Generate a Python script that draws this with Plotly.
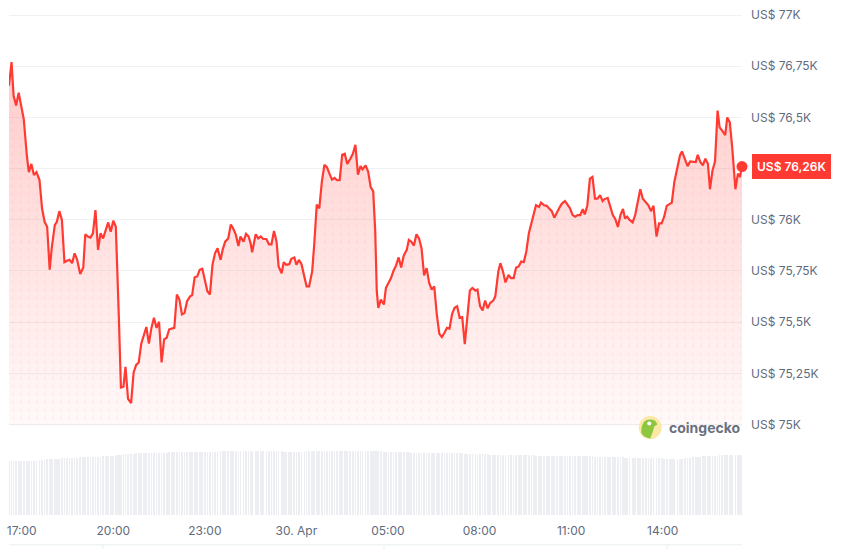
import plotly.graph_objects as go
from datetime import datetime, timedelta

# ---------------- data ----------------
times_hm = [
    "16:35", "16:40", "16:44", "16:49", "16:54", "16:59", "17:04", "17:10", "17:14", "17:19",
    "17:24", "17:29", "17:35", "17:40", "17:45", "17:50", "17:55", "17:59", "18:05", "18:09",
    "18:14", "18:19", "18:24", "18:29", "18:34", "18:39", "18:44", "18:49", "18:55", "19:01",
    "19:05", "19:10", "19:15", "19:20", "19:25", "19:30", "19:35", "19:40", "19:45", "19:50",
    "19:55", "20:00", "20:05", "20:08", "20:11", "20:15", "20:20", "20:24", "20:29", "20:35",
    "20:40", "20:45", "20:50", "20:55", "21:01", "21:05", "21:10", "21:15", "21:20", "21:25",
    "21:30", "21:35", "21:40", "21:45", "21:50", "21:55", "22:00", "22:05", "22:10", "22:15",
    "22:20", "22:25", "22:31", "22:35", "22:40", "22:45", "22:50", "22:55", "23:01", "23:05",
    "23:10", "23:15", "23:20", "23:25", "23:31", "23:35", "23:40", "23:46", "23:51", "23:55",
    "00:01", "00:06", "00:10", "00:16", "00:21", "00:26", "00:30", "00:33", "00:40", "00:45",
    "00:50", "00:55", "01:01", "01:06", "01:11", "01:16", "01:21", "01:25", "01:31", "01:35",
    "01:40", "01:46", "01:50", "01:56", "02:00", "02:05", "02:10", "02:16", "02:20", "02:25",
    "02:31", "02:35", "02:40", "02:45", "02:50", "02:55", "03:00", "03:05", "03:10", "03:15",
    "03:20", "03:25", "03:30", "03:35", "03:40", "03:46", "03:51", "03:56", "04:01", "04:06",
    "04:10", "04:16", "04:21", "04:26", "04:31", "04:35", "04:38", "04:41", "04:46", "04:52",
    "04:56", "05:01", "05:06", "05:11", "05:16", "05:21", "05:26", "05:31", "05:37", "05:41",
    "05:46", "05:51", "05:56", "06:01", "06:06", "06:11", "06:16", "06:21", "06:26", "06:31",
    "06:36", "06:41", "06:46", "06:51", "06:56", "07:01", "07:06", "07:11", "07:16", "07:21",
    "07:26", "07:31", "07:36", "07:41", "07:46", "07:52", "07:56", "08:01", "08:06", "08:11",
    "08:16", "08:21", "08:27", "08:31", "08:37", "08:41", "08:46", "08:51", "08:57", "09:02",
    "09:07", "09:12", "09:17", "09:22", "09:27", "09:32", "09:37", "09:42", "09:47", "09:51",
    "09:57", "10:01", "10:07", "10:12", "10:17", "10:22", "10:27", "10:33", "10:38", "10:42",
    "10:48", "10:53", "10:58", "11:03", "11:08", "11:13", "11:18", "11:23", "11:27", "11:32",
    "11:37", "11:42", "11:47", "11:52", "11:57", "12:02", "12:06", "12:12", "12:16", "12:22",
    "12:27", "12:32", "12:37", "12:42", "12:46", "12:50", "12:55", "13:01", "13:06", "13:11",
    "13:16", "13:21", "13:27", "13:32", "13:37", "13:42", "13:48", "13:53", "13:58", "14:03",
    "14:08", "14:14", "14:18", "14:23", "14:29", "14:34", "14:38", "14:44", "14:49", "14:54",
    "14:59", "15:05", "15:09", "15:14", "15:19", "15:24", "15:29", "15:33", "15:38", "15:43",
    "15:48", "15:52", "15:57", "16:03", "16:07", "16:12", "16:17", "16:23", "16:28", "16:32",
    "16:36",
]

prices = [
    76655, 76770, 76607, 76558, 76621, 76558, 76492, 76316, 76233, 76273,
    76218, 76233, 76194, 76055, 75990, 75966, 75756, 75861, 75974, 75990,
    76042, 75999, 75793, 75800, 75804, 75788, 75836, 75804, 75735, 75767,
    75929, 75918, 75913, 75934, 76047, 75853, 75934, 75909, 75955, 75987,
    75942, 75995, 75966, 75782, 75521, 75181, 75185, 75282, 75125, 75104,
    75254, 75291, 75303, 75395, 75440, 75476, 75395, 75472, 75521, 75472,
    75502, 75303, 75416, 75424, 75465, 75470, 75472, 75635, 75610, 75538,
    75545, 75602, 75626, 75631, 75719, 75723, 75756, 75761, 75699, 75651,
    75635, 75780, 75836, 75861, 75804, 75853, 75893, 75909, 75977, 75961,
    75926, 75872, 75918, 75893, 75931, 75918, 75885, 75841, 75929, 75909,
    75918, 75906, 75906, 75880, 75880, 75945, 75893, 75772, 75739, 75793,
    75780, 75783, 75809, 75816, 75780, 75804, 75783, 75715, 75675, 75675,
    75748, 75877, 76074, 76055, 76185, 76268, 76257, 76225, 76196, 76204,
    76193, 76193, 76317, 76322, 76273, 76298, 76322, 76366, 76220, 76262,
    76246, 76266, 76236, 76160, 76139, 75942, 75651, 75570, 75610, 75586,
    75667, 75691, 75715, 75751, 75777, 75816, 75767, 75825, 75853, 75902,
    75893, 75874, 75929, 75909, 75861, 75728, 75764, 75691, 75659, 75675,
    75538, 75443, 75427, 75448, 75472, 75468, 75540, 75570, 75578, 75521,
    75524, 75392, 75545, 75654, 75667, 75654, 75659, 75578, 75557, 75605,
    75567, 75594, 75605, 75626, 75748, 75788, 75748, 75694, 75731, 75715,
    75715, 75767, 75772, 75796, 75793, 75845, 75934, 75982, 76019, 76071,
    76063, 76084, 76071, 76068, 76055, 76042, 76010, 76042, 76063, 76079,
    76091, 76074, 76055, 76023, 76015, 76023, 76023, 76052, 76026, 76071,
    76201, 76209, 76103, 76103, 76120, 76091, 76101, 76107, 76071, 76023,
    76003, 75965, 76023, 76053, 76006, 76015, 75999, 75987, 76023, 76087,
    76149, 76103, 76084, 76071, 76042, 76068, 75918, 75982, 75982, 76015,
    76068, 76079, 76084, 76185, 76249, 76314, 76334, 76298, 76262, 76285,
    76282, 76282, 76317, 76282, 76266, 76298, 76273, 76149, 76241, 76285,
    76533, 76451, 76435, 76414, 76500, 76476, 76346, 76149, 76225, 76209,
    76260,
]

volumes = [
    27.0, 27.0, 27.1, 27.0, 26.9, 27.0, 27.0, 27.1, 27.1, 27.0,
    27.2, 27.3, 27.4, 27.5, 27.6, 27.8, 27.9, 28.0, 28.0, 28.1,
    28.2, 28.3, 28.4, 28.5, 28.5, 28.6, 28.7, 28.7, 28.8, 28.8,
    28.9, 29.0, 29.0, 29.1, 29.1, 29.2, 29.2, 29.3, 29.3, 29.4,
    29.5, 29.5, 29.6, 29.8, 30.0, 30.2, 30.4, 30.5, 30.5, 30.6,
    30.7, 30.8, 30.8, 30.9, 30.9, 31.0, 31.0, 31.0, 31.1, 31.1,
    31.1, 31.2, 31.2, 31.2, 31.3, 31.3, 31.3, 31.3, 31.4, 31.4,
    31.4, 31.5, 31.5, 31.5, 31.5, 31.6, 31.6, 31.6, 31.6, 31.7,
    31.7, 31.7, 31.7, 31.8, 31.8, 31.8, 31.8, 31.9, 31.9, 31.9,
    31.9, 32.0, 32.0, 32.0, 32.0, 32.0, 32.0, 32.1, 32.1, 32.1,
    32.1, 32.0, 32.0, 32.0, 31.9, 31.9, 31.8, 31.8, 31.8, 31.7,
    31.7, 31.7, 31.6, 31.6, 31.6, 31.7, 31.7, 31.8, 31.8, 31.9,
    31.9, 32.0, 32.0, 32.0, 32.1, 32.1, 32.1, 32.2, 32.2, 32.2,
    32.2, 32.2, 32.1, 32.1, 32.1, 32.1, 32.0, 32.0, 32.0, 32.0,
    32.0, 32.1, 32.1, 32.1, 32.0, 32.0, 31.9, 31.8, 31.8, 31.7,
    31.7, 31.6, 31.6, 31.5, 31.5, 31.5, 31.4, 31.4, 31.3, 31.3,
    31.2, 31.2, 31.1, 31.1, 31.0, 31.0, 31.0, 30.9, 30.9, 30.8,
    30.8, 30.8, 30.9, 30.9, 31.0, 31.0, 31.0, 30.9, 30.9, 30.8,
    30.8, 30.7, 30.7, 30.6, 30.6, 30.5, 30.5, 30.4, 30.4, 30.3,
    30.3, 30.2, 30.2, 30.1, 30.1, 30.0, 30.0, 30.0, 30.0, 29.9,
    30.0, 30.0, 29.9, 29.9, 29.9, 29.8, 29.8, 29.8, 29.8, 29.7,
    29.7, 29.7, 29.7, 29.6, 29.6, 29.6, 29.6, 29.5, 29.5, 29.5,
    29.5, 29.5, 29.4, 29.4, 29.4, 29.4, 29.5, 29.5, 29.4, 29.4,
    29.3, 29.3, 29.2, 29.2, 29.1, 29.1, 29.0, 29.0, 28.9, 28.9,
    28.9, 28.8, 28.8, 28.8, 28.7, 28.7, 28.7, 28.6, 28.6, 28.6,
    28.5, 28.5, 28.5, 28.4, 28.4, 28.4, 28.3, 28.3, 28.3, 28.2,
    28.2, 28.2, 28.1, 28.1, 27.8, 27.8, 28.1, 28.3, 28.5, 28.7,
    28.9, 29.0, 29.1, 29.2, 29.3, 29.4, 29.5, 29.6, 29.6, 29.7,
    29.7, 29.8, 29.8, 29.8, 29.9, 29.9, 29.9, 30.0, 30.0, 30.0,
    30.0,
]

y_tick_values = [75000, 75250, 75500, 75750, 76000, 76250, 76500, 76750, 77000]
# the 76,25K label sits under the last-price badge in the reference, so it is blank
y_tick_labels = ["US$ 75K", "US$ 75,25K", "US$ 75,5K", "US$ 75,75K", "US$ 76K",
                 "", "US$ 76,5K", "US$ 76,75K", "US$ 77K"]
x_tick_times = ["2025-04-29 17:00", "2025-04-29 20:00", "2025-04-29 23:00",
                "2025-04-30 02:00", "2025-04-30 05:00", "2025-04-30 08:00",
                "2025-04-30 11:00", "2025-04-30 14:00"]
x_tick_labels = ["17:00", "20:00", "23:00", "30. Apr", "05:00", "08:00", "11:00", "14:00"]
last_price_label = "US$ 76,26K"
brand_label = "coingecko"

# ---------------- build timestamps ----------------
day = datetime(2025, 4, 29)
stamps = []
prev = None
for hm in times_hm:
    h, m = map(int, hm.split(":"))
    t = day.replace(hour=h, minute=m)
    if prev is not None and t < prev:
        day += timedelta(days=1)
        t = day.replace(hour=h, minute=m)
    stamps.append(t)
    prev = t

RED = "#ff3a33"
GREY_TXT = "#5f6b7e"

fig = go.Figure()

# gradient fill
fig.add_trace(go.Scatter(
    x=stamps, y=prices, mode="lines",
    line=dict(width=0, color="rgba(0,0,0,0)"),
    fill="tozeroy",
    fillgradient=dict(type="vertical",
                      colorscale=[[0, "rgba(255,58,51,0.03)"], [1, "rgba(255,58,51,0.26)"]],
                      start=75000, stop=76780),
    hoverinfo="skip", showlegend=False,
))

# dotted pattern + line
fig.add_trace(go.Scatter(
    x=stamps, y=prices, mode="lines",
    line=dict(color=RED, width=2.2),
    fill="tozeroy", fillcolor="rgba(0,0,0,0)",
    fillpattern=dict(shape=".", fgcolor="rgba(255,58,51,0.10)", bgcolor="rgba(0,0,0,0)",
                     size=8, solidity=0.12, fillmode="overlay"),
    hoverinfo="skip", showlegend=False,
))

# last point marker
fig.add_trace(go.Scatter(
    x=[stamps[-1]], y=[prices[-1]], mode="markers",
    marker=dict(size=11, color=RED), cliponaxis=False,
    hoverinfo="skip", showlegend=False,
))

# volume bars
fig.add_trace(go.Bar(
    x=stamps, y=volumes, yaxis="y2",
    marker=dict(color="#eceef1", line=dict(width=0)),
    width=90000, hoverinfo="skip", showlegend=False,
))

fig.update_layout(
    width=844, height=549,
    margin=dict(l=7, r=102, t=11, b=34),
    paper_bgcolor="white", plot_bgcolor="white",
    font=dict(family="Inter, Roboto, sans-serif", size=12, color=GREY_TXT),
    bargap=0,
    hovermode=False,
    xaxis=dict(type="date", anchor="y2",
               range=[stamps[0], stamps[-1]],
               tickvals=x_tick_times, ticktext=x_tick_labels,
               showgrid=False, zeroline=False, showline=False, ticks="",
               ticklabelstandoff=7,
               tickfont=dict(size=12, color=GREY_TXT)),
    yaxis=dict(domain=[0.1786, 1], range=[74995, 77005], side="right", anchor="x",
               tickvals=y_tick_values, ticktext=y_tick_labels,
               gridcolor="#eff2f5", gridwidth=1, zeroline=False, showline=False,
               ticks="", ticklabelstandoff=8,
               tickfont=dict(size=12, color=GREY_TXT)),
    yaxis2=dict(domain=[0, 0.1389], range=[0, 35], anchor="x", visible=False),
    annotations=[
        dict(xref="paper", yref="y", x=1.0136, y=prices[-1], xanchor="left", yanchor="middle",
             text=last_price_label, showarrow=False,
             font=dict(size=12, color="white", family="Inter, Roboto, sans-serif", weight=600),
             bgcolor=RED, bordercolor=RED, borderwidth=1, borderpad=4),
        dict(xref="paper", yref="paper", x=0.898, y=0.1746, xanchor="left", yanchor="middle",
             text="<b>" + brand_label + "</b>", showarrow=False,
             font=dict(size=14, color="#6b7080", family="Inter, Roboto, sans-serif")),
    ],
    shapes=[
        dict(type="circle", xref="paper", yref="paper", xsizemode="pixel", ysizemode="pixel",
             xanchor=0.8748, yanchor=0.1746, x0=-11.5, x1=11.5, y0=-11.5, y1=11.5,
             fillcolor="#fbe7a6", line=dict(width=0)),
        dict(type="path", xref="paper", yref="paper", xsizemode="pixel", ysizemode="pixel",
             xanchor=0.8748, yanchor=0.1746,
             path="M -9,-5 Q -9,8 0,8 Q 6,8 7,3 L 4,1 Q 3,-4 0,-11 Q -7,-10 -9,-5 Z",
             fillcolor="#8dc63f", line=dict(width=0)),
        dict(type="circle", xref="paper", yref="paper", xsizemode="pixel", ysizemode="pixel",
             xanchor=0.8748, yanchor=0.1746, x0=-3, x1=1, y0=2, y1=6,
             fillcolor="white", line=dict(width=0)),
        dict(type="line", xref="paper", yref="paper", x0=0, x1=1, y0=-0.0595, y1=-0.0595,
             line=dict(color="#e8eef0", width=1)),
        dict(type="line", xref="paper", yref="paper", x0=0.128, x1=0.128, y0=-0.0595, y1=-0.09,
             line=dict(color="#e8eef0", width=1)),
        dict(type="line", xref="paper", yref="paper", x0=0.5116, x1=0.5116, y0=-0.0595, y1=-0.09,
             line=dict(color="#e8eef0", width=1)),
        dict(type="line", xref="paper", yref="paper", x0=0.898, x1=0.898, y0=-0.0595, y1=-0.09,
             line=dict(color="#e8eef0", width=1)),
    ],
)

fig.write_html("out.html",
               config={"displayModeBar": False, "staticPlot": False},
               post_script="document.body.style.margin='0';document.body.style.padding='0';")
